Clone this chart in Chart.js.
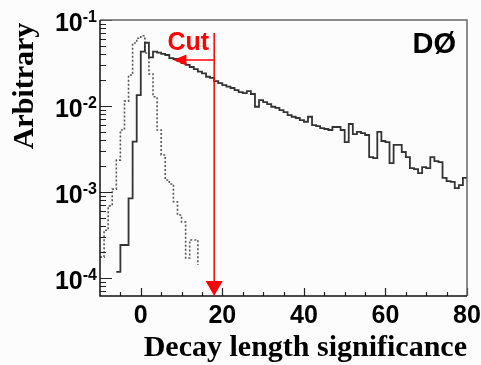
<!DOCTYPE html>
<html>
<head>
<meta charset="utf-8">
<script src="https://cdn.jsdelivr.net/npm/chart.js@4.4.0/dist/chart.umd.min.js"></script>
<style>
  html, body { margin: 0; padding: 0; background: #fcfcfc; }
  #chart { display: block; }
</style>
</head>
<body>
<canvas id="chart" width="481" height="365"></canvas>
<script>
// histogram bins: low edges, width 1
const binLowEdges = [
  -10, -9, -8, -7, -6, -5, -4, -3, -2, -1,
  0, 1, 2, 3, 4, 5, 6, 7, 8, 9,
  10, 11, 12, 13, 14, 15, 16, 17, 18, 19,
  20, 21, 22, 23, 24, 25, 26, 27, 28, 29,
  30, 31, 32, 33, 34, 35, 36, 37, 38, 39,
  40, 41, 42, 43, 44, 45, 46, 47, 48, 49,
  50, 51, 52, 53, 54, 55, 56, 57, 58, 59,
  60, 61, 62, 63, 64, 65, 66, 67, 68, 69,
  70, 71, 72, 73, 74, 75, 76, 77, 78, 79
];
const binHighEdge = 80;

// solid histogram (long lived)
const solidValues = [
  0, 0, 0, 0, 1.18e-4, 2.42e-4, 2.42e-4, 8.45e-4, 3.85e-3, 1.34e-2,
  4.28e-2, 5.44e-2, 3.68e-2, 4.28e-2, 4.17e-2, 4.03e-2, 3.92e-2, 3.61e-2, 3.52e-2, 3.34e-2,
  3.16e-2, 3.00e-2, 2.84e-2, 2.69e-2, 2.51e-2, 2.40e-2, 2.19e-2, 2.12e-2, 1.95e-2, 1.85e-2,
  1.75e-2, 1.68e-2, 1.62e-2, 1.53e-2, 1.45e-2, 1.41e-2, 1.49e-2, 1.38e-2, 9.8e-3, 1.17e-2,
  1.11e-2, 1.05e-2, 9.8e-3, 9.5e-3, 8.98e-3, 8.51e-3, 7.85e-3, 7.5e-3, 7.25e-3, 6.87e-3,
  6.56e-3, 7.5e-3, 6.0e-3, 5.85e-3, 5.54e-3, 5.4e-3, 5.26e-3, 5.7e-3, 5.7e-3, 5.26e-3,
  3.81e-3, 6.18e-3, 4.72e-3, 4.99e-3, 4.85e-3, 4.6e-3, 2.55e-3, 2.48e-3, 4.99e-3, 3.92e-3,
  3.81e-3, 2.17e-3, 3.53e-3, 3.53e-3, 2.92e-3, 2.55e-3, 1.9e-3, 1.85e-3, 1.66e-3, 1.95e-3,
  1.9e-3, 2.55e-3, 2.29e-3, 2.23e-3, 1.46e-3, 1.34e-3, 1.31e-3, 1.11e-3, 1.2e-3, 1.46e-3
];

// dotted histogram (prompt)
const dottedValues = [
  1.75e-4, 3.6e-4, 6.9e-4, 1.08e-3, 2.35e-3, 5.26e-3, 1.14e-2, 2.29e-2, 5.4e-2, 6.13e-2,
  6.57e-2, 4.13e-2, 2.36e-2, 1.28e-2, 5.26e-3, 2.69e-3, 1.38e-3, 1.24e-3, 7.7e-4, 5.4e-4,
  4.48e-4, 1.71e-4, 2.77e-4, 2.77e-4, 1.42e-4, 0, 0, 0, 0, 0,
  0, 0, 0, 0, 0, 0, 0, 0, 0, 0,
  0, 0, 0, 0, 0, 0, 0, 0, 0, 0,
  0, 0, 0, 0, 0, 0, 0, 0, 0, 0,
  0, 0, 0, 0, 0, 0, 0, 0, 0, 0,
  0, 0, 0, 0, 0, 0, 0, 0, 0, 0,
  0, 0, 0, 0, 0, 0, 0, 0, 0, 0
];

const cutValue = 18;
const xMajorTicks = [0, 20, 40, 60, 80];
const xMinorTicks = [-5, 5, 10, 15, 25, 30, 35, 45, 50, 55, 65, 70, 75];
const yMajorExps = [-1, -2, -3, -4];
const yMinorMantissas = [2, 3, 4, 5, 6, 7, 8, 9];

function histPoints(values) {
  const pts = binLowEdges.map((e, i) => ({ x: e, y: values[i] }));
  pts.push({ x: binHighEdge, y: values[values.length - 1] });
  return pts;
}

// ROOT-like axes, labels and the red cut arrow
const histoDecor = {
  id: 'histoDecor',
  afterDatasetsDraw(chart) {
    const { ctx, chartArea: a, scales: { x, y } } = chart;
    ctx.save();

    // ticks
    ctx.strokeStyle = '#222';
    ctx.lineWidth = 1.2;
    ctx.beginPath();
    yMajorExps.forEach(e => {
      const py = Math.round(y.getPixelForValue(Math.pow(10, e))) + 0.5;
      ctx.moveTo(a.left, py); ctx.lineTo(a.left + 12, py);
    });
    [-5, -4, -3, -2].forEach(e => {
      yMinorMantissas.forEach(m => {
        const v = m * Math.pow(10, e);
        if (v <= y.min || v >= y.max) return;
        const py = Math.round(y.getPixelForValue(v)) + 0.5;
        ctx.moveTo(a.left, py); ctx.lineTo(a.left + 6, py);
      });
    });
    xMajorTicks.forEach(v => {
      const px = Math.round(x.getPixelForValue(v)) + 0.5;
      ctx.moveTo(px, a.bottom); ctx.lineTo(px, a.bottom - 8);
    });
    xMinorTicks.forEach(v => {
      const px = Math.round(x.getPixelForValue(v)) + 0.5;
      ctx.moveTo(px, a.bottom); ctx.lineTo(px, a.bottom - 4);
    });
    ctx.stroke();

    // frame
    ctx.lineWidth = 1.5;
    ctx.strokeStyle = '#666';
    ctx.beginPath();
    ctx.moveTo(a.left, a.top); ctx.lineTo(a.right, a.top); ctx.lineTo(a.right, a.bottom);
    ctx.stroke();
    ctx.strokeStyle = '#111';
    ctx.beginPath();
    ctx.moveTo(a.left, a.top); ctx.lineTo(a.left, a.bottom); ctx.lineTo(a.right, a.bottom);
    ctx.stroke();

    // x tick labels
    ctx.fillStyle = '#000';
    ctx.font = 'bold 25px "Liberation Sans", Arial, sans-serif';
    ctx.textAlign = 'center';
    ctx.textBaseline = 'alphabetic';
    xMajorTicks.forEach(v => {
      ctx.fillText(String(v), x.getPixelForValue(v), a.bottom + 27);
    });

    // y tick labels 10^n
    yMajorExps.forEach(e => {
      const py = y.getPixelForValue(Math.pow(10, e));
      const sup = String(e);
      ctx.font = 'bold 16px "Liberation Sans", Arial, sans-serif';
      ctx.textAlign = 'right';
      const supW = ctx.measureText(sup).width;
      ctx.fillText(sup, a.left - 3, py + 2);
      ctx.font = 'bold 25px "Liberation Sans", Arial, sans-serif';
      ctx.fillText('10', a.left - 3 - supW, py + 11);
    });

    // axis titles
    ctx.font = 'bold 30px "Liberation Serif", "Times New Roman", serif';
    ctx.textAlign = 'right';
    ctx.fillText('Decay length significance', a.right, 356);
    ctx.save();
    ctx.translate(33, (a.top + a.bottom) / 2 - 72);
    ctx.rotate(-Math.PI / 2);
    ctx.textAlign = 'center';
    ctx.fillText('Arbitrary', 0, 0);
    ctx.restore();

    // experiment label
    ctx.font = 'bold 29px "Liberation Sans", Arial, sans-serif';
    ctx.textAlign = 'right';
    ctx.fillText('DØ', a.right - 11, a.top + 33);

    // cut arrow
    const red = '#ff0000';
    const cx = x.getPixelForValue(cutValue);
    const topY = y.getPixelForValue(0.0706);
    const armY = y.getPixelForValue(0.0343);
    const tipX = x.getPixelForValue(8);
    ctx.strokeStyle = red;
    ctx.fillStyle = red;
    ctx.lineWidth = 1.5;
    ctx.beginPath();
    ctx.moveTo(cx, topY); ctx.lineTo(cx, a.bottom - 14);
    ctx.moveTo(cx, armY); ctx.lineTo(tipX + 12, armY);
    ctx.stroke();
    ctx.beginPath();
    ctx.moveTo(cx, a.bottom);
    ctx.lineTo(cx - 8.5, a.bottom - 15);
    ctx.lineTo(cx + 8.5, a.bottom - 15);
    ctx.closePath();
    ctx.fill();
    ctx.beginPath();
    ctx.moveTo(tipX, armY);
    ctx.lineTo(tipX + 13, armY - 5.5);
    ctx.lineTo(tipX + 13, armY + 5.5);
    ctx.closePath();
    ctx.fill();
    ctx.font = 'bold 25px "Liberation Sans", Arial, sans-serif';
    ctx.textAlign = 'right';
    ctx.fillText('Cut', cx - 5, y.getPixelForValue(0.0448));

    ctx.restore();
  }
};

new Chart(document.getElementById('chart'), {
  type: 'line',
  data: {
    datasets: [{
      label: 'solid',
      data: histPoints(solidValues),
      stepped: true,
      borderColor: '#333',
      borderWidth: 1.8,
      pointRadius: 0,
      fill: false
    }, {
      label: 'dotted',
      data: histPoints(dottedValues),
      stepped: true,
      borderColor: '#555',
      borderWidth: 1.6,
      borderDash: [2, 2],
      pointRadius: 0,
      fill: false
    }]
  },
  options: {
    responsive: false,
    animation: false,
    devicePixelRatio: 1,
    layout: { padding: { left: 100, top: 20, right: 14, bottom: 69 } },
    plugins: {
      legend: { display: false },
      tooltip: { enabled: false }
    },
    scales: {
      x: { type: 'linear', min: -10, max: 80, display: false },
      y: { type: 'logarithmic', min: 6.18e-5, max: 0.1, display: false }
    }
  },
  plugins: [histoDecor]
});
</script>
</body>
</html>
